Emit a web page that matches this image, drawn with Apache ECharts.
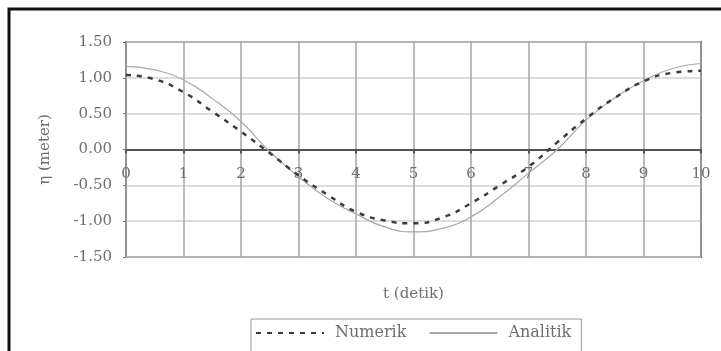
<!DOCTYPE html>
<html>
<head>
<meta charset="utf-8">
<script src="https://cdn.jsdelivr.net/npm/echarts@6/dist/echarts.min.js"></script>
<style>
  html, body { margin: 0; padding: 0; background: #fff; }
  #chart { width: 721px; height: 351px; }
</style>
</head>
<body>
<div id="chart"></div>
<script>
const waktu = [0, 0.5, 1, 1.5, 2, 2.5, 3, 3.5, 4, 4.5, 5, 5.5, 6, 6.5, 7, 7.5, 8, 8.5, 9, 9.5, 10];
const numerik = [1.04, 0.98, 0.80, 0.53, 0.25, -0.05, -0.36, -0.63, -0.87, -0.99, -1.03, -0.95, -0.75, -0.50, -0.24, 0.10, 0.43, 0.72, 0.95, 1.07, 1.10];
const analitik = [1.16, 1.11, 0.97, 0.71, 0.39, -0.03, -0.38, -0.68, -0.90, -1.08, -1.15, -1.10, -0.94, -0.66, -0.33, 0.00, 0.41, 0.72, 0.96, 1.13, 1.20];

const textColor = '#6e6e6e';
const serif = '"DejaVu Serif", "Liberation Serif", serif';

const chart = echarts.init(document.getElementById('chart'), null, { renderer: 'canvas' });

chart.setOption({
  backgroundColor: '#fff',
  animation: false,
  graphic: [{
    type: 'rect',
    shape: { x: 9, y: 9, width: 760, height: 420 },
    style: { fill: 'none', stroke: '#111', lineWidth: 3 },
    z: 100
  }],
  grid: {
    left: 126, right: 20, top: 42, bottom: 94,
    containLabel: false,
    outerBoundsMode: 'none',
    show: true,
    borderColor: '#5c5c5c',
    borderWidth: 2
  },
  legend: {
    top: 319,
    left: 251,
    itemWidth: 68,
    itemHeight: 10,
    itemGap: 22,
    padding: [6, 10, 20, 4],
    borderColor: '#9a9a9a',
    borderWidth: 1,
    itemStyle: { opacity: 0 },
    textStyle: { color: textColor, fontFamily: serif, fontSize: 16, padding: [0, 0, 0, 6] },
    data: ['Numerik', 'Analitik']
  },
  xAxis: {
    type: 'value',
    min: 0, max: 10, interval: 1,
    position: 'bottom',
    offset: -107.5,
    name: 't (detik)',
    nameLocation: 'middle',
    nameGap: 137,
    nameTextStyle: { color: textColor, fontFamily: serif, fontSize: 15 },
    axisLine: { onZero: false, lineStyle: { color: '#555', width: 2 } },
    axisTick: { show: true, length: 4, lineStyle: { color: '#555', width: 2 } },
    axisLabel: { color: textColor, fontFamily: serif, fontSize: 15, margin: 17 },
    splitLine: { show: true, lineStyle: { color: '#a5a5a5', width: 1.5 } }
  },
  yAxis: {
    type: 'value',
    min: -1.5, max: 1.5, interval: 0.5,
    name: 'η (meter)',
    nameLocation: 'middle',
    nameGap: 73,
    nameTextStyle: { color: textColor, fontFamily: serif, fontSize: 15 },
    axisLine: { show: false },
    axisTick: { show: true, length: 3, lineStyle: { color: '#777' } },
    axisLabel: {
      color: textColor, fontFamily: serif, fontSize: 15, margin: 14,
      formatter: v => v.toFixed(2)
    },
    splitLine: { show: true, lineStyle: { color: '#d2d2d2', width: 1.5 } }
  },
  series: [
    {
      name: 'Numerik',
      type: 'line',
      smooth: true,
      symbol: 'none',
      data: waktu.map((t, i) => [t, numerik[i]]),
      lineStyle: { color: '#3c3c3c', width: 2.5, type: [5, 6] },
      itemStyle: { color: '#3c3c3c' },
      z: 3
    },
    {
      name: 'Analitik',
      type: 'line',
      smooth: true,
      symbol: 'none',
      data: waktu.map((t, i) => [t, analitik[i]]),
      lineStyle: { color: '#a8a8a8', width: 1.2 },
      itemStyle: { color: '#a8a8a8' },
      z: 2
    }
  ]
});
</script>
</body>
</html>
